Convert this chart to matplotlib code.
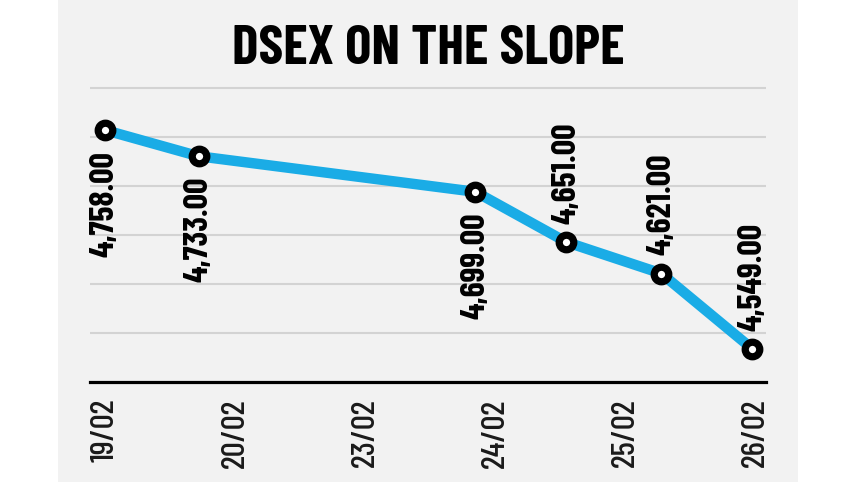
import matplotlib
matplotlib.use('Agg')
import matplotlib.pyplot as plt
from matplotlib.patches import Rectangle

# DSEX closing values, one per session
dates = ['19/02', '20/02', '23/02', '24/02', '25/02', '26/02']
x_pos = [0.0, 0.72, 2.85, 3.55, 4.28, 4.98]
dsex = [4758, 4733, 4699, 4651, 4621, 4549]
grid_vals = [4564.2, 4611.0, 4657.8, 4704.6, 4751.4, 4798.2]

cond = ['Barlow Condensed', 'Liberation Sans Narrow', 'DejaVu Sans']
blue = '#1aace6'

fig = plt.figure(figsize=(8.57, 4.82), dpi=100)
fig.patch.set_facecolor('white')
fig.patches.append(Rectangle((58 / 857, 0), 740 / 857, 1, transform=fig.transFigure,
                             facecolor='#f2f2f2', edgecolor='none', zorder=-10))

ax = fig.add_axes([90 / 857, 100 / 482, 676 / 857, 302 / 482])
ax.set_facecolor('none')
ax.set_xlim(-0.115, 5.085)
ax.set_ylim(4517.4, 4805.8)

for g in grid_vals:
    ax.axhline(g, color='#d3d3d3', lw=1.5, zorder=1)

ax.plot(x_pos, dsex, color=blue, lw=7.5, solid_capstyle='butt', zorder=2)
ax.plot(x_pos, dsex, ls='none', marker='o', ms=10.5, mfc='white', mec='black',
        mew=5.2, zorder=3)

for i, (x, v) in enumerate(zip(x_pos, dsex)):
    below = i < 3
    ax.annotate(f'{v:,.2f}', (x, v), xytext=(0, -15 if below else 13),
                textcoords='offset points', rotation=90, ha='center',
                va='top' if below else 'bottom', fontsize=24.5, fontweight='bold',
                family=cond, color='black', zorder=4)

for s in ['top', 'left', 'right']:
    ax.spines[s].set_visible(False)
ax.spines['bottom'].set_linewidth(2.3)
ax.spines['bottom'].set_color('black')
ax.set_yticks([])
ax.set_xticks(range(len(dates)))
ax.set_xticklabels(dates, rotation=90, va='top', ha='center', fontsize=24,
                   fontweight='medium', family=cond, color='#1a1a1a')
ax.tick_params(axis='x', length=0, pad=12)

fig.text(428 / 857, 1 - 49 / 482, 'DSEX ON THE SLOPE', ha='center', va='center',
         fontsize=40, fontweight='bold', family=cond, color='black')

fig.savefig('out.png', dpi=100, facecolor='white')
